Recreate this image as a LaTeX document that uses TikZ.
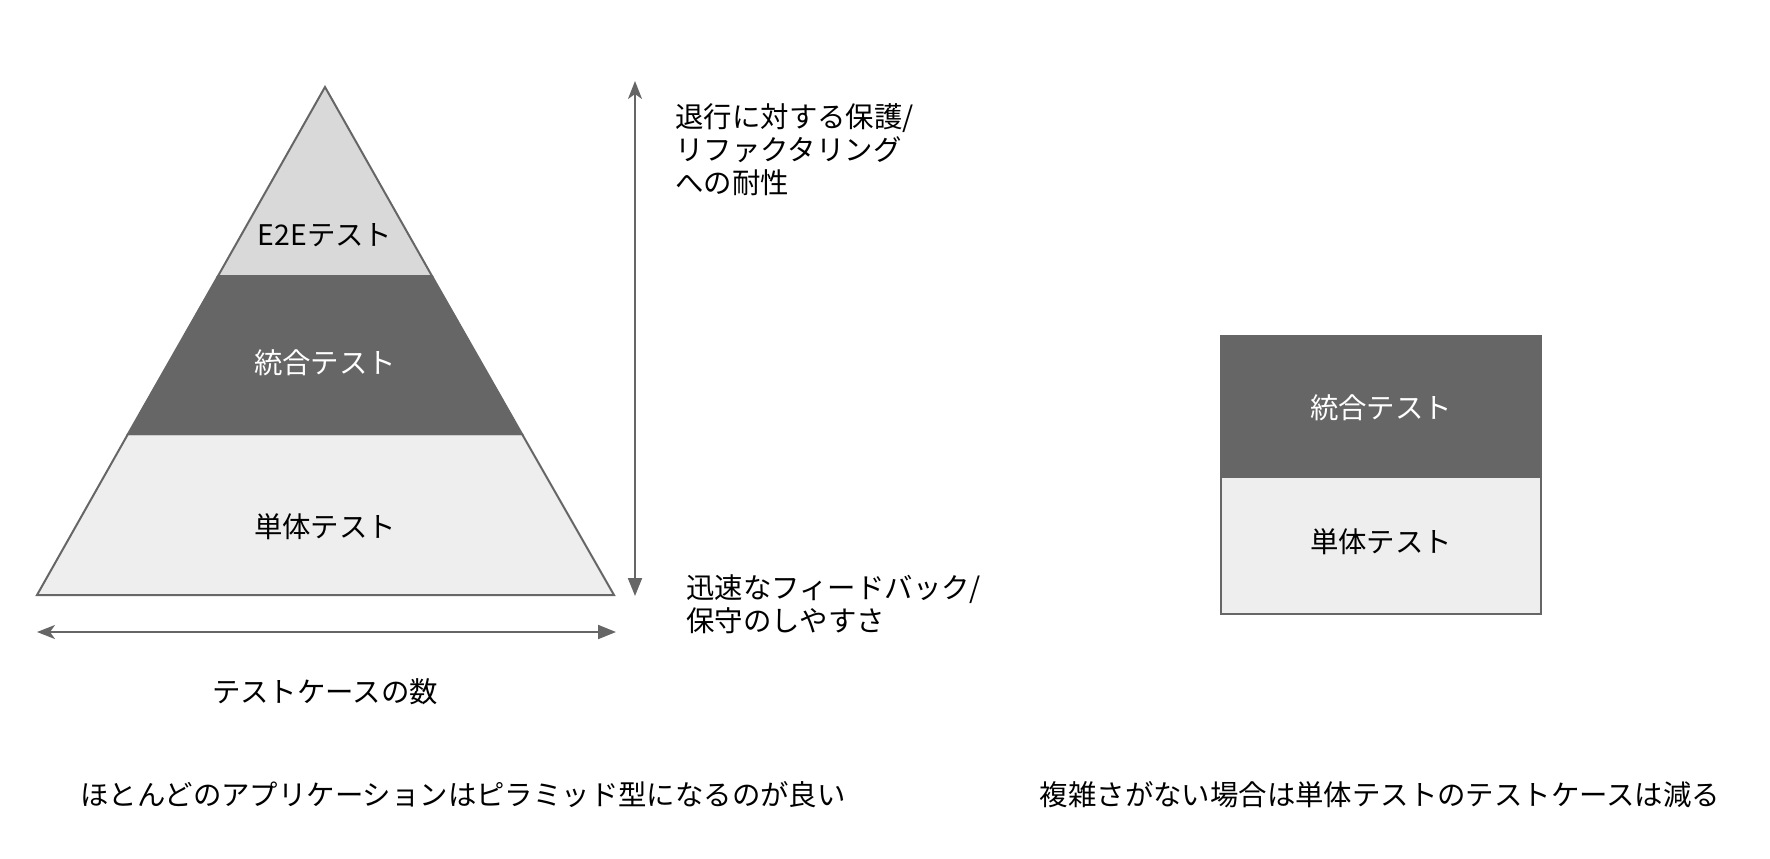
\documentclass[tikz,border=0pt]{standalone}
\usepackage{fontspec}
\setmainfont{Noto Sans CJK JP}
\usetikzlibrary{arrows.meta}
\definecolor{edgegray}{HTML}{666666}
\definecolor{topgray}{HTML}{D9D9D9}
\definecolor{midgray}{HTML}{666666}
\definecolor{lowgray}{HTML}{EEEEEE}
\tikzset{
	band/.style={draw=edgegray, line width=1pt, line join=miter},
	lbl/.style={inner sep=0pt, font=\fontsize{14.2}{16.5}\selectfont},
	axis/.style={draw=edgegray, line width=1pt, {Stealth[length=9pt,width=7pt,inset=2.5pt]}-{Triangle[length=9pt,width=7pt]}}
}
\begin{document}
\begin{tikzpicture}[x=0.5pt, y=-0.5pt]
		%%%%% START %%%%%
		\useasboundingbox (0, 0) rectangle (1770, 858);
		
		% pyramid
		\draw[band, fill=lowgray] (128, 434) -- (522, 434) -- (614, 595) -- (37, 595) -- cycle;
		\draw[band, fill=midgray] (218, 276) -- (432, 276) -- (522, 434) -- (128, 434) -- cycle;
		\draw[band, fill=topgray] (325, 87) -- (432, 276) -- (218, 276) -- cycle;
		
		\node[lbl] (e2e) at (325, 235) {E2Eテスト};
		\node[lbl, text=white] (integ) at (325, 363) {統合テスト};
		\node[lbl] (unit) at (325, 527) {単体テスト};
		
		% axes
		\coordinate (vtop) at (635, 81);
		\coordinate (vbot) at (635, 596);
		\draw[axis] (vtop) -- (vbot);
		
		\coordinate (hleft) at (37, 632);
		\coordinate (hright) at (616, 632);
		\draw[axis] (hleft) -- (hright);
		
		\node[lbl, anchor=west, align=left] (protect) at (675, 150) {退行に対する保護/\\リファクタリング\\への耐性};
		\node[lbl, anchor=west, align=left] (speed) at (686, 604) {迅速なフィードバック/\\保守のしやすさ};
		\node[lbl] (count) at (325, 692) {テストケースの数};
		
		% box
		\draw[band, fill=midgray] (1221, 336) rectangle (1541, 477);
		\draw[band, fill=lowgray] (1221, 477) rectangle (1541, 614);
		\node[lbl, text=white] (integ2) at (1381, 408) {統合テスト};
		\node[lbl] (unit2) at (1381, 542) {単体テスト};
		
		% captions
		\node[lbl] (capleft) at (463, 795) {ほとんどのアプリケーションはピラミッド型になるのが良い};
		\node[lbl] (capright) at (1380, 795) {複雑さがない場合は単体テストのテストケースは減る};
		
		%%%%% END %%%%%
	\end{tikzpicture}
\end{document}
